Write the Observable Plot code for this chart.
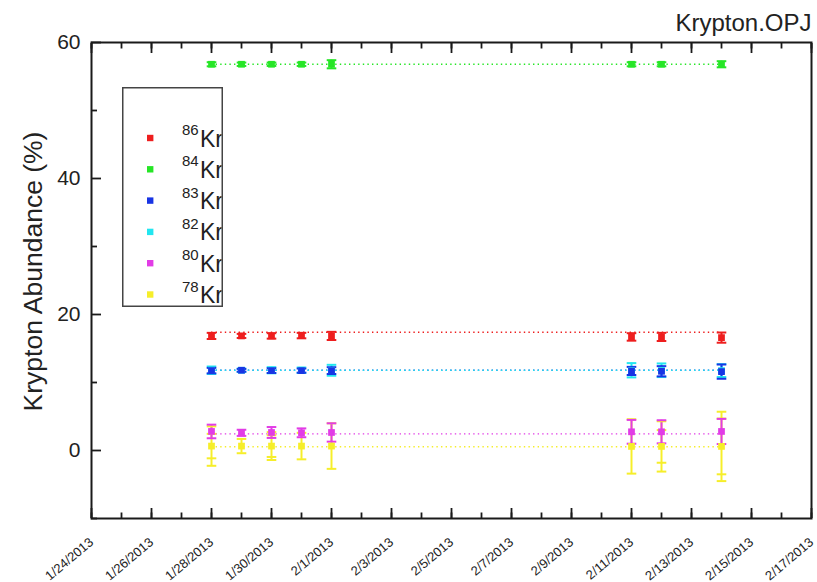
<!DOCTYPE html>
<html>
<head>
<meta charset="utf-8">
<script src="https://cdn.jsdelivr.net/npm/d3@7"></script>
<script src="https://cdn.jsdelivr.net/npm/@observablehq/plot@0.6"></script>
<style>
  body { margin: 0; background: #fff; }
  #wrap { position: relative; width: 817px; height: 582px; font-family: "Liberation Sans", Arial, sans-serif; }
  #wrap svg { display: block; }
  #legend { position: absolute; left: 122px; top: 87px; }
</style>
</head>
<body>
<div id="wrap"></div>
<script>
// ---------- data ----------
const title = "Krypton.OPJ";
const yLabel = "Krypton Abundance (%)";
const isotopes = ["86Kr", "84Kr", "83Kr", "82Kr", "80Kr", "78Kr"];
const massNumbers = ["86", "84", "83", "82", "80", "78"];
const colors = ["#ee1e1e", "#26e626", "#1834e4", "#22e6f0", "#e23ce6", "#f6ee2a"];
const drawOrder = ["78Kr", "82Kr", "83Kr", "80Kr", "86Kr", "84Kr"];

const dates = ["2013-01-28", "2013-01-29", "2013-01-30", "2013-01-31", "2013-02-01",
               "2013-02-11", "2013-02-12", "2013-02-14"];

const xTickLabels = ["1/24/2013", "1/26/2013", "1/28/2013", "1/30/2013", "2/1/2013", "2/3/2013",
                     "2/5/2013", "2/7/2013", "2/9/2013", "2/11/2013", "2/13/2013", "2/15/2013", "2/17/2013"];
const yTickLabels = [0, 20, 40, 60];
const yMinorTicks = [-10, 10, 30, 50];

const kr86    = [16.85, 16.85, 16.85, 16.9, 16.85, 16.7, 16.7, 16.6];
const kr86Err = [0.45, 0.3, 0.4, 0.4, 0.6, 0.55, 0.6, 0.75];
const kr84    = [56.8, 56.8, 56.8, 56.8, 56.8, 56.8, 56.8, 56.8];
const kr84Err = [0.3, 0.25, 0.25, 0.25, 0.6, 0.3, 0.3, 0.45];
const kr83    = [11.75, 11.8, 11.75, 11.75, 11.75, 11.7, 11.65, 11.6];
const kr83Err = [0.4, 0.2, 0.35, 0.3, 0.5, 0.6, 0.75, 1.05];
const kr82    = [11.8, 11.8, 11.8, 11.8, 11.8, 11.8, 11.8, 11.75];
const kr82Err = [0.55, 0.25, 0.45, 0.4, 0.8, 1.05, 1.0, 0.95];
const kr80    = [2.8, 2.6, 2.65, 2.6, 2.65, 2.75, 2.75, 2.8];
const kr80Err = [1.0, 0.45, 0.8, 0.65, 1.35, 1.75, 1.7, 1.85];
const kr78    = [0.65, 0.65, 0.65, 0.65, 0.65, 0.6, 0.6, 0.6];
const kr78Err = [2.9, 1.05, 2.05, 1.95, 3.35, 4.0, 3.7, 5.1];
const kr78Err2 = [1.8, null, 1.6, null, null, null, 2.4, 4.1];

const fitLevels = [17.4, 56.8, 11.8, 11.8, 2.45, 0.55];

// ---------- build tables ----------
const parseDate = d3.utcParse("%Y-%m-%d");
const parseTick = d3.utcParse("%m/%d/%Y");
const fmtTick = d3.utcFormat("%-m/%-d/%Y");
const X = dates.map(parseDate);
const majorX = xTickLabels.map(parseTick);
const minorX = d3.utcDay.range(majorX[0], d3.utcDay.offset(majorX[majorX.length - 1], 1));

const series = {
  "86Kr": [kr86, kr86Err, null],
  "84Kr": [kr84, kr84Err, null],
  "83Kr": [kr83, kr83Err, null],
  "82Kr": [kr82, kr82Err, null],
  "80Kr": [kr80, kr80Err, null],
  "78Kr": [kr78, kr78Err, kr78Err2]
};

const rows = [];
const caps = [];
for (const iso of drawOrder) {
  const [vals, errs, errs2] = series[iso];
  vals.forEach((v, j) => {
    rows.push({iso, date: X[j], v, e: errs[j]});
    caps.push({iso, date: X[j], y: v - errs[j]}, {iso, date: X[j], y: v + errs[j]});
    if (errs2 && errs2[j] != null) {
      caps.push({iso, date: X[j], y: v - errs2[j]}, {iso, date: X[j], y: v + errs2[j]});
    }
  });
}
const fits = isotopes.map((iso, i) => ({iso, y: fitLevels[i]}));

const capSymbol = {
  draw(context) { context.moveTo(-4.8, 0); context.lineTo(4.8, 0); }
};

const axisInk = "#1a1a1a";

const chart = Plot.plot({
  width: 817,
  height: 582,
  marginLeft: 91,
  marginRight: 6,
  marginTop: 42,
  marginBottom: 64,
  style: {fontFamily: "'Liberation Sans', Arial, sans-serif", background: "#fff", color: "#1a1a1a"},
  x: {type: "utc", domain: [majorX[0], majorX[majorX.length - 1]]},
  y: {domain: [-10, 60]},
  color: {domain: isotopes, range: colors},
  marks: [
    // fit lines
    Plot.ruleY(fits, {y: "y", x1: X[0], x2: X[X.length - 1], stroke: "iso",
      strokeWidth: 1.4, strokeDasharray: "1.4,3.2"}),
    // error bars
    Plot.ruleX(rows, {x: "date", y1: d => d.v - d.e, y2: d => d.v + d.e, stroke: "iso", strokeWidth: 2}),
    Plot.dot(caps, {x: "date", y: "y", stroke: "iso", symbol: capSymbol, strokeWidth: 2}),
    // markers
    Plot.dot(rows, {x: "date", y: "v", fill: "iso", symbol: "square", r: 3.8}),
    // axes: ticks (inward)
    Plot.axisX(majorX, {anchor: "bottom", tickSize: -10, fill: "none", stroke: axisInk, strokeWidth: 1.8}),
    Plot.axisX(minorX, {anchor: "bottom", tickSize: -5.5, fill: "none", stroke: axisInk, strokeWidth: 1.8}),
    Plot.axisX(majorX, {anchor: "top", tickSize: -10, fill: "none", stroke: axisInk, strokeWidth: 1.8}),
    Plot.axisX(minorX, {anchor: "top", tickSize: -5.5, fill: "none", stroke: axisInk, strokeWidth: 1.8}),
    Plot.axisY(yTickLabels, {anchor: "left", tickSize: -10, fill: "none", stroke: axisInk, strokeWidth: 1.8}),
    Plot.axisY(yMinorTicks, {anchor: "left", tickSize: -6, fill: "none", stroke: axisInk, strokeWidth: 1.8}),
    // axes: labels
    Plot.axisX(majorX, {anchor: "bottom", tickSize: 0, tickPadding: 22, tickRotate: -40,
      textAnchor: "end", tickFormat: fmtTick, fontSize: 13, label: null, fill: "#222"}),
    Plot.axisY(yTickLabels, {anchor: "left", tickSize: 0, tickPadding: 11, fontSize: 21,
      label: null, fill: "#222"}),
    Plot.frame({stroke: axisInk, strokeWidth: 2}),
    Plot.text([yLabel], {frameAnchor: "left", rotate: -90, dx: -58, dy: -9, textAnchor: "middle",
      lineAnchor: "middle", fontSize: 26.5, fill: "#222"}),
    Plot.text([title], {frameAnchor: "top-right", dy: -12, textAnchor: "end", lineAnchor: "bottom",
      fontSize: 24, fill: "#222"})
  ]
});

const wrap = document.getElementById("wrap");
wrap.appendChild(chart);

// ---------- legend ----------
const lw = 101, lh = 220;
const legend = d3.select(wrap).append("svg")
  .attr("id", "legend")
  .attr("width", lw).attr("height", lh)
  .style("font-family", "'Liberation Sans', Arial, sans-serif");
legend.append("rect")
  .attr("x", 0.75).attr("y", 0.75).attr("width", lw - 1.5).attr("height", lh - 1.5)
  .attr("fill", "#fff").attr("stroke", "#444").attr("stroke-width", 1.5);
const clip = legend.append("clipPath").attr("id", "lclip");
clip.append("rect").attr("x", 0).attr("y", 0).attr("width", lw - 1.5).attr("height", lh);
const entries = legend.append("g").attr("clip-path", "url(#lclip)")
  .selectAll("g").data(isotopes).join("g")
  .attr("transform", (d, i) => `translate(0,${51 + i * 31.3})`);
entries.append("rect")
  .attr("x", 25).attr("y", -3.2).attr("width", 6.4).attr("height", 6.4)
  .attr("fill", (d, i) => colors[i]);
entries.append("text")
  .attr("x", 60).attr("y", -3).attr("font-size", 15).attr("fill", "#222")
  .text((d, i) => massNumbers[i]);
entries.append("text")
  .attr("x", 78).attr("y", 8.5).attr("font-size", 23).attr("fill", "#222")
  .text("Kr");
</script>
</body>
</html>
